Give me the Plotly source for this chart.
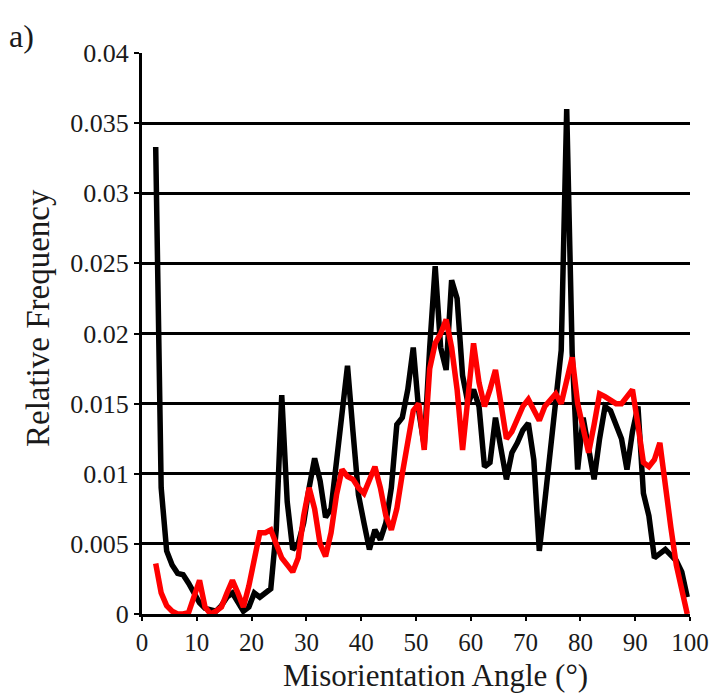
import plotly.graph_objects as go

# Misorientation angle bins (degrees, bin centres)
angles = [a + 0.5 for a in range(2, 100)]

black_freq = [
    0.0333, 0.0090, 0.0045, 0.0035, 0.0029, 0.0028, 0.0022, 0.0015, 0.0008, 0.0004,
    0.0003, 0.0002, 0.0006, 0.0012, 0.0015, 0.0008, 0.0002, 0.0005, 0.0015, 0.0012,
    0.0015, 0.0018, 0.0060, 0.0156, 0.0080, 0.0046, 0.0050, 0.0065, 0.0090, 0.0111,
    0.0095, 0.0069, 0.0075, 0.0110, 0.0150, 0.0177, 0.0130, 0.0085, 0.0065, 0.0046,
    0.0060, 0.0053, 0.0065, 0.0090, 0.0135, 0.0140, 0.0160, 0.0190, 0.0145, 0.0120,
    0.0190, 0.0248, 0.0190, 0.0174, 0.0238, 0.0225, 0.0170, 0.0150, 0.0160, 0.0148,
    0.0105, 0.0108, 0.0140, 0.0115, 0.0096, 0.0115, 0.0122, 0.0131, 0.0136, 0.0110,
    0.0045, 0.0080, 0.0117, 0.0150, 0.0188, 0.0360, 0.0186, 0.0103, 0.0140, 0.0118,
    0.0096, 0.0125, 0.0148, 0.0145, 0.0135, 0.0125, 0.0103, 0.0130, 0.0148, 0.0086,
    0.0070, 0.0040, 0.0043, 0.0046, 0.0042, 0.0038, 0.0030, 0.0012,
]

red_freq = [
    0.0036, 0.0015, 0.0006, 0.0002, 0.0000, 0.0000, 0.0001, 0.0012, 0.0024, 0.0005,
    0.0000, 0.0002, 0.0005, 0.0015, 0.0024, 0.0015, 0.0005, 0.0020, 0.0040, 0.0058,
    0.0058, 0.0060, 0.0050, 0.0040, 0.0035, 0.0030, 0.0040, 0.0070, 0.0090, 0.0075,
    0.0050, 0.0041, 0.0058, 0.0085, 0.0103, 0.0098, 0.0096, 0.0090, 0.0086, 0.0095,
    0.0105, 0.0090, 0.0070, 0.0060, 0.0075, 0.0100, 0.0125, 0.0145, 0.0150, 0.0117,
    0.0175, 0.0193, 0.0200, 0.0210, 0.0190, 0.0160, 0.0117, 0.0160, 0.0193, 0.0165,
    0.0148, 0.0160, 0.0174, 0.0150, 0.0125, 0.0130, 0.0140, 0.0148, 0.0153, 0.0145,
    0.0138, 0.0148, 0.0152, 0.0157, 0.0150, 0.0165, 0.0183, 0.0150, 0.0130, 0.0115,
    0.0135, 0.0157, 0.0155, 0.0153, 0.0150, 0.0150, 0.0155, 0.0160, 0.0135, 0.0108,
    0.0105, 0.0110, 0.0122, 0.0090, 0.0062, 0.0035, 0.0015, 0.0000,
]

x_ticks = [0, 10, 20, 30, 40, 50, 60, 70, 80, 90, 100]
y_ticks = [0, 0.005, 0.01, 0.015, 0.02, 0.025, 0.03, 0.035, 0.04]
y_tick_text = ["0", "0.005", "0.01", "0.015", "0.02", "0.025", "0.03", "0.035", "0.04"]

FONT = "Liberation Serif"
TXT = "#1a1a1a"

# plot area in pixels (for placing annotations in paper units)
L, R, T, B = 142, 35, 53, 81
PW, PH = 725 - L - R, 695 - T - B

fig = go.Figure()
fig.add_trace(go.Scatter(x=angles, y=black_freq, mode="lines",
                         line=dict(color="black", width=5.5), showlegend=False))
fig.add_trace(go.Scatter(x=angles, y=red_freq, mode="lines",
                         line=dict(color="#ff0000", width=5.5), showlegend=False))

fig.update_layout(
    width=725, height=695,
    margin=dict(l=L, r=R, t=T, b=B),
    paper_bgcolor="white", plot_bgcolor="white",
    font=dict(family=FONT, color=TXT),
    xaxis=dict(
        range=[0, 100], tickvals=x_ticks, ticks="outside", ticklen=4, tickwidth=2,
        tickcolor="black", showline=True, linecolor="black", linewidth=3,
        showgrid=False, zeroline=False, tickfont=dict(size=25, family=FONT, color=TXT),
    ),
    yaxis=dict(
        range=[0, 0.04], tickvals=y_ticks, ticktext=y_tick_text, ticks="outside", ticklen=5,
        tickwidth=2, tickcolor="black", showline=True, linecolor="black", linewidth=3,
        showgrid=True, gridcolor="black", gridwidth=3, zeroline=False,
        tickfont=dict(size=26, family=FONT, color=TXT),
    ),
    annotations=[
        dict(text="a)", x=-(L - 7) / PW, y=1 + (T - 16) / PH, xref="paper", yref="paper",
             showarrow=False, xanchor="left", yanchor="top",
             font=dict(size=32, family=FONT, color=TXT)),
        dict(text="Misorientation Angle (°)", x=((435 - L) / PW), y=-(695 - (695 - B)) / PH,
             xref="paper", yref="paper", showarrow=False, xanchor="center", yanchor="bottom",
             font=dict(size=31, family=FONT, color=TXT)),
        dict(text="Relative Frequency", x=-(L - 38) / PW, y=(695 - B - 318) / PH,
             xref="paper", yref="paper", showarrow=False, xanchor="center", yanchor="middle",
             textangle=-90, font=dict(size=33, family=FONT, color=TXT)),
    ],
)

fig.write_html("out.html")
